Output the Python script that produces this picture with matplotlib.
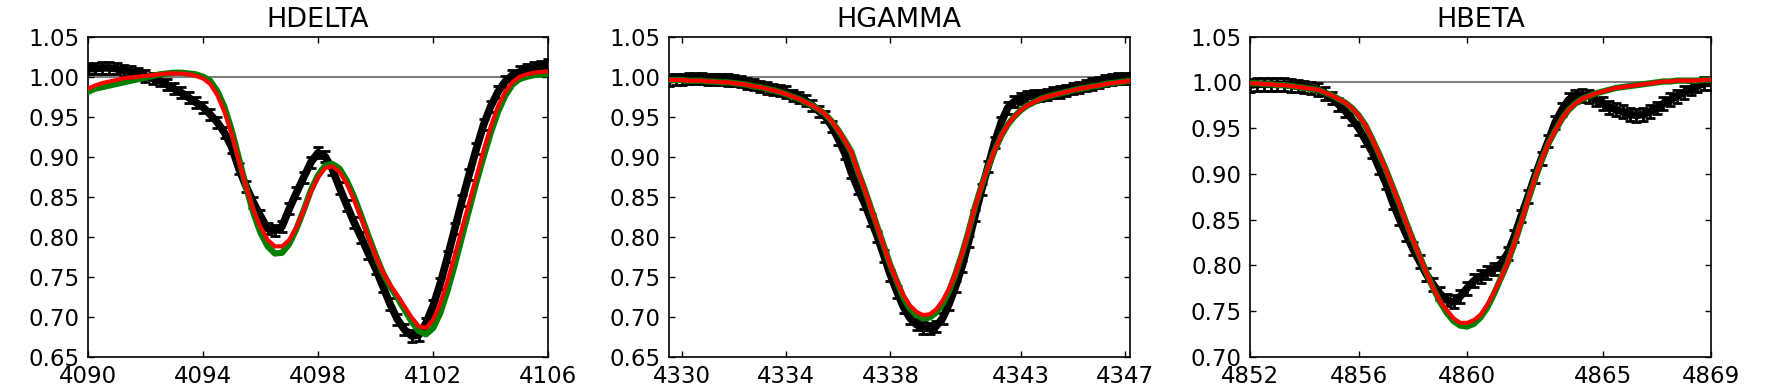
import numpy as np
import matplotlib
matplotlib.use("Agg")
import matplotlib.pyplot as plt
from matplotlib.ticker import FormatStrFormatter

# wavelength grids (0.25 A sampling)
wave_hd = np.arange(4090.0, 4106.001, 0.25)
wave_hg = np.arange(4329.5, 4347.251, 0.25)
wave_hb = np.arange(4852.0, 4869.001, 0.25)

# HDELTA
obs_hd = [1.010, 1.010, 1.011, 1.011, 1.010, 1.008, 1.006, 1.004, 1.001, 0.998,
          0.995, 0.990, 0.985, 0.980, 0.974, 0.968, 0.962, 0.953, 0.943, 0.930,
          0.912, 0.885, 0.863, 0.843, 0.826, 0.810, 0.808, 0.813, 0.835, 0.855,
          0.874, 0.893, 0.905, 0.900, 0.884, 0.861, 0.839, 0.818, 0.799, 0.779,
          0.760, 0.738, 0.716, 0.697, 0.684, 0.676, 0.677, 0.692, 0.714, 0.742,
          0.775, 0.810, 0.845, 0.878, 0.910, 0.940, 0.963, 0.981, 0.994, 1.002,
          1.006, 1.009, 1.011, 1.013, 1.015]
green_hd = [0.981, 0.985, 0.987, 0.989, 0.991, 0.993, 0.995, 0.997, 0.999, 1.001,
            1.003, 1.004, 1.005, 1.005, 1.004, 1.003, 1.000, 0.995, 0.982, 0.962,
            0.933, 0.898, 0.862, 0.830, 0.805, 0.788, 0.779, 0.780, 0.791, 0.810,
            0.833, 0.858, 0.877, 0.889, 0.891, 0.885, 0.870, 0.850, 0.826, 0.801,
            0.777, 0.755, 0.738, 0.724, 0.709, 0.694, 0.682, 0.678, 0.686, 0.705,
            0.733, 0.765, 0.800, 0.834, 0.868, 0.900, 0.930, 0.956, 0.976, 0.990,
            0.997, 1.000, 1.002, 1.003, 1.003]
red_hd = [0.985, 0.989, 0.992, 0.994, 0.996, 0.998, 0.999, 1.000, 1.001, 1.002,
          1.003, 1.004, 1.004, 1.004, 1.003, 1.001, 0.998, 0.991, 0.977, 0.956,
          0.928, 0.895, 0.862, 0.834, 0.812, 0.796, 0.788, 0.788, 0.796, 0.812,
          0.833, 0.856, 0.874, 0.886, 0.888, 0.881, 0.866, 0.846, 0.823, 0.799,
          0.776, 0.756, 0.740, 0.727, 0.713, 0.699, 0.688, 0.686, 0.696, 0.717,
          0.745, 0.777, 0.810, 0.843, 0.875, 0.908, 0.938, 0.963, 0.981, 0.993,
          1.000, 1.003, 1.005, 1.006, 1.007]

# HGAMMA
obs_hg = [0.996, 0.997, 0.997, 0.998, 0.998, 0.998, 0.997, 0.997, 0.997, 0.996,
          0.995, 0.994, 0.992, 0.990, 0.988, 0.986, 0.984, 0.983, 0.981, 0.977,
          0.974, 0.970, 0.964, 0.957, 0.950, 0.938, 0.922, 0.904, 0.880, 0.860,
          0.842, 0.821, 0.800, 0.776, 0.752, 0.731, 0.712, 0.698, 0.690, 0.686,
          0.685, 0.688, 0.698, 0.716, 0.738, 0.763, 0.794, 0.827, 0.859, 0.888,
          0.918, 0.943, 0.961, 0.969, 0.973, 0.975, 0.976, 0.977, 0.978, 0.980,
          0.981, 0.983, 0.985, 0.987, 0.989, 0.991, 0.993, 0.995, 0.997, 0.998,
          0.998, 0.998]
green_hg = [0.996, 0.996, 0.996, 0.995, 0.995, 0.995, 0.994, 0.994, 0.993, 0.993,
            0.992, 0.991, 0.990, 0.988, 0.987, 0.985, 0.983, 0.981, 0.978, 0.975,
            0.972, 0.968, 0.964, 0.959, 0.953, 0.944, 0.933, 0.920, 0.906, 0.882,
            0.860, 0.836, 0.812, 0.788, 0.764, 0.744, 0.724, 0.710, 0.702, 0.698,
            0.699, 0.705, 0.716, 0.732, 0.754, 0.779, 0.807, 0.838, 0.864, 0.887,
            0.908, 0.926, 0.940, 0.950, 0.958, 0.964, 0.968, 0.972, 0.975, 0.977,
            0.979, 0.981, 0.983, 0.985, 0.986, 0.988, 0.989, 0.991, 0.992, 0.993,
            0.994, 0.995]
red_hg = [0.996, 0.996, 0.996, 0.995, 0.995, 0.995, 0.994, 0.994, 0.993, 0.993,
          0.992, 0.991, 0.990, 0.988, 0.987, 0.985, 0.983, 0.981, 0.978, 0.975,
          0.972, 0.968, 0.964, 0.959, 0.953, 0.944, 0.933, 0.920, 0.906, 0.882,
          0.860, 0.836, 0.812, 0.788, 0.764, 0.744, 0.727, 0.714, 0.706, 0.702,
          0.703, 0.709, 0.720, 0.735, 0.754, 0.779, 0.807, 0.838, 0.864, 0.887,
          0.908, 0.926, 0.940, 0.950, 0.958, 0.964, 0.968, 0.972, 0.975, 0.977,
          0.979, 0.981, 0.983, 0.985, 0.986, 0.988, 0.989, 0.991, 0.992, 0.993,
          0.994, 0.995]

# HBETA
obs_hb = [0.997, 0.998, 0.998, 0.998, 0.998, 0.998, 0.997, 0.996, 0.995, 0.994,
          0.992, 0.988, 0.983, 0.976, 0.969, 0.960, 0.950, 0.937, 0.924, 0.907,
          0.890, 0.869, 0.851, 0.834, 0.818, 0.804, 0.790, 0.779, 0.769, 0.762,
          0.760, 0.766, 0.775, 0.783, 0.788, 0.792, 0.796, 0.802, 0.813, 0.832,
          0.854, 0.875, 0.897, 0.917, 0.936, 0.956, 0.970, 0.981, 0.985, 0.986,
          0.985, 0.981, 0.977, 0.973, 0.970, 0.968, 0.965, 0.964, 0.965, 0.968,
          0.972, 0.977, 0.981, 0.985, 0.989, 0.993, 0.996, 0.999, 0.999]
green_hb = [0.999, 0.999, 0.998, 0.998, 0.997, 0.997, 0.996, 0.995, 0.994, 0.993,
            0.992, 0.989, 0.986, 0.982, 0.978, 0.972, 0.964, 0.953, 0.938, 0.922,
            0.905, 0.886, 0.867, 0.847, 0.828, 0.810, 0.792, 0.775, 0.760, 0.748,
            0.739, 0.734, 0.733, 0.736, 0.743, 0.754, 0.769, 0.786, 0.803, 0.824,
            0.847, 0.871, 0.894, 0.915, 0.933, 0.947, 0.960, 0.970, 0.977, 0.982,
            0.985, 0.988, 0.990, 0.992, 0.994, 0.995, 0.996, 0.997, 0.998, 0.999,
            1.000, 1.001, 1.001, 1.002, 1.002, 1.002, 1.002, 1.003, 1.003]
red_hb = [0.999, 0.999, 0.998, 0.998, 0.997, 0.997, 0.996, 0.995, 0.994, 0.993,
          0.992, 0.989, 0.986, 0.982, 0.978, 0.972, 0.964, 0.953, 0.938, 0.922,
          0.905, 0.886, 0.867, 0.847, 0.828, 0.810, 0.792, 0.775, 0.761, 0.751,
          0.742, 0.737, 0.737, 0.740, 0.746, 0.757, 0.771, 0.786, 0.803, 0.824,
          0.847, 0.871, 0.894, 0.915, 0.933, 0.947, 0.960, 0.970, 0.977, 0.982,
          0.985, 0.988, 0.990, 0.992, 0.994, 0.995, 0.996, 0.997, 0.998, 0.999,
          1.000, 1.001, 1.001, 1.002, 1.002, 1.002, 1.002, 1.003, 1.003]

flux_err = 0.007

titles = ["HDELTA", "HGAMMA", "HBETA"]
xlims = [(4090, 4106), (4329.5, 4347.18), (4852, 4869)]
ylims = [(0.65, 1.05), (0.65, 1.05), (0.70, 1.05)]
xticks = [[4090, 4094, 4098, 4102, 4106],
          [4330, 4334, 4338, 4343, 4347],
          [4852, 4856, 4860, 4865, 4869]]

panels = [(wave_hd, obs_hd, green_hd, red_hd),
          (wave_hg, obs_hg, green_hg, red_hg),
          (wave_hb, obs_hb, green_hb, red_hb)]

fig, axes = plt.subplots(1, 3, figsize=(17.66, 3.91), dpi=100)
fig.subplots_adjust(left=0.0497, right=0.9688, bottom=0.0877, top=0.9061, wspace=0.262)

for ax, (w, obs, gr, rd), title, xl, yl, xt in zip(axes, panels, titles, xlims, ylims, xticks):
    ax.axhline(1.0, color="gray", lw=1.5, zorder=1)
    ax.plot(w, obs, color="k", lw=5.5, zorder=2)
    ax.errorbar(w, obs, yerr=flux_err, fmt="none", ecolor="k", elinewidth=2,
                capsize=3.5, capthick=2, zorder=2)
    ax.plot(w, gr, color="green", lw=4.5, zorder=3)
    ax.plot(w, rd, color="red", lw=3, zorder=4)
    ax.set_xlim(xl)
    ax.set_ylim(yl)
    ax.set_xticks(xt)
    ax.set_yticks(np.arange(yl[0], yl[1] + 0.001, 0.05))
    ax.yaxis.set_major_formatter(FormatStrFormatter("%.2f"))
    ax.set_title(title, fontsize=19.5, pad=7)
    ax.tick_params(direction="in", top=True, right=True, length=4.5, width=1,
                   labelsize=16.5, pad=6)
    for s in ax.spines.values():
        s.set_linewidth(1.2)

fig.savefig("out.png", dpi=100, facecolor="white")
